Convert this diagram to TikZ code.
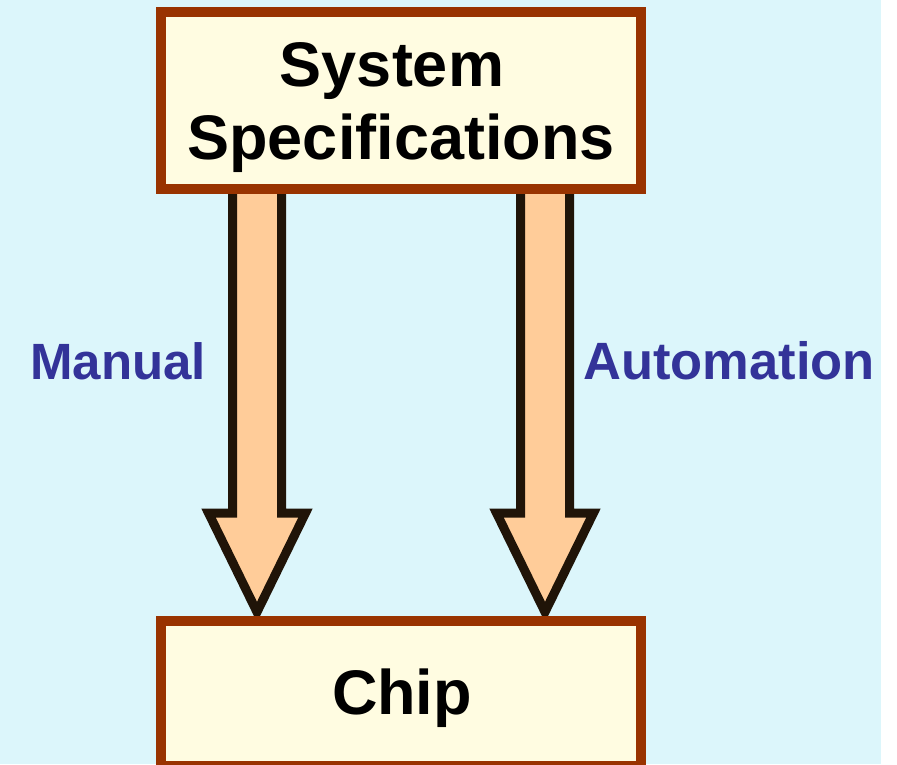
\documentclass[tikz,border=0pt]{standalone}
\usepackage{fontspec}
\setmainfont{Liberation Sans}
\definecolor{bgcyan}{HTML}{DCF6FB}
\definecolor{boxfill}{HTML}{FFFCE1}
\definecolor{boxline}{HTML}{993300}
\definecolor{arrfill}{HTML}{FFCC99}
\definecolor{arrline}{HTML}{201408}
\definecolor{lblblue}{HTML}{333399}
\tikzset{
  box/.style={draw=boxline, fill=boxfill, line width=10pt, inner sep=0pt, minimum width=480pt},
  bigtext/.style={font=\fontsize{63}{73}\selectfont\bfseries, text=black, inner sep=0pt},
  lbltext/.style={font=\fontsize{51}{60}\selectfont\bfseries, text=lblblue, inner sep=0pt, anchor=base west},
  blockarrow/.style={draw=arrline, fill=arrfill, line width=9pt, miter limit=10}
}
\newcommand\blockarr[1]{%
  \draw[blockarrow] ({#1-24.5},185) -- ({#1-24.5},513) -- ({#1-48.5},513) -- (#1,612)
    -- ({#1+48.5},513) -- ({#1+24.5},513) -- ({#1+24.5},185) -- cycle;}
\begin{document}
\begin{tikzpicture}[x=1pt,y=-1pt]
  \useasboundingbox (0,0) rectangle (897,764);
  \fill[white] (0,0) rectangle (897,764);
  \fill[bgcyan] (0,0) rectangle (881,764);
  % block arrows
  \blockarr{257}
  \blockarr{545}
  % boxes
  \node[box, minimum height=177pt] (spec) at (401,100.5) {};
  \node[box, minimum height=145pt] (chip) at (401,693.5) {};
  % texts
  \node[bigtext, anchor=base] (sys) at (392,86) {System};
  \node[bigtext, anchor=base] (specs) at (401,159) {Specifications};
  \node[bigtext, anchor=base] (chiptxt) at (402,714) {Chip};
  \node[lbltext] (manual) at (30,379) {Manual};
  \node[lbltext, font=\fontsize{52.5}{60}\selectfont\bfseries] (auto) at (583,379) {Automation};
\end{tikzpicture}
\end{document}
